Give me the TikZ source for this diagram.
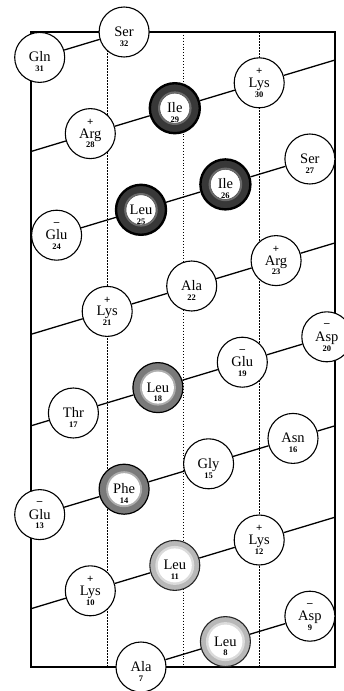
\documentclass[tikz,border=0pt]{standalone}
\usepackage{fontspec}
\usepackage{tikz}
\setmainfont{Liberation Serif}
\usetikzlibrary{backgrounds}
\newcommand{\namefont}{\fontsize{14.5}{14.5}\selectfont}
\newcommand{\numfont}{\fontsize{8.5}{8.5}\selectfont\bfseries}
\newcommand{\chgfont}{\fontsize{11}{11}\selectfont\bfseries}
\tikzset{
  res/.style={
    circle,
    draw=black,
    line width=1.1pt,
    fill=white,
    minimum size=50pt,
    inner sep=0pt,
    font=\namefont,
    text height=9pt,
    text depth=0pt
  },
  ringdark/.style={
    res,
    line width=2.4pt,
    fill=black!78,
    path picture={
      \fill[black!58] (path picture bounding box.center) circle (16.8pt);
      \filldraw[fill=white, draw=black!70, line width=0.5pt] (path picture bounding box.center) circle (15pt);
    }
  },
  ringmid/.style={
    res,
    line width=1.2pt,
    fill=black!52,
    path picture={
      \fill[black!32] (path picture bounding box.center) circle (18pt);
      \fill[white] (path picture bounding box.center) circle (16pt);
    }
  },
  ringlight/.style={
    res,
    draw=black!85,
    fill=black!28,
    path picture={
      \fill[black!14] (path picture bounding box.center) circle (19.5pt);
      \fill[white] (path picture bounding box.center) circle (17pt);
    }
  },
  numlbl/.style={font=\numfont, inner sep=0pt, text height=5.5pt, text depth=0pt, yshift=-11.5pt},
  chglbl/.style={font=\chgfont, inner sep=0pt, yshift=11.5pt},
  num/.style={label={[numlbl]center:#1}},
  chgpos/.style={label={[chglbl]center:+}},
  chgneg/.style={label={[chglbl]center:--}},
  helix/.style={line width=1.3pt, draw=black},
  rim/.style={line width=1.2pt, draw=black},
  dashdiv/.style={line width=0.9pt, dash pattern=on 2pt off 1pt},
  dotdiv/.style={line width=0.9pt, dotted}
}

\begin{document}
\begin{tikzpicture}[x=1pt, y=-1pt]
  \useasboundingbox (0,0) rectangle (344,691);

  % residues, bottom to top
  \node[res, num=7] (ala7) at (141,667) {Ala};
  \node[ringlight, num=8] (leu8) at (225.4,641.6) {Leu};
  \node[res, chgneg, num=9] (asp9) at (309.9,616.2) {Asp};
  \node[res, chgpos, num=10] (lys10) at (90.3,590.8) {Lys};
  \node[ringlight, num=11] (leu11) at (174.8,565.4) {Leu};
  \node[res, chgpos, num=12] (lys12) at (259.2,540) {Lys};
  \node[res, chgneg, num=13] (glu13) at (39.7,514.6) {Glu};
  \node[ringmid, num=14] (phe14) at (124.1,489.2) {Phe};
  \node[res, num=15] (gly15) at (208.6,463.8) {Gly};
  \node[res, num=16] (asn16) at (293,438.4) {Asn};
  \node[res, num=17] (thr17) at (73.4,413) {Thr};
  \node[ringmid, num=18] (leu18) at (157.9,387.6) {Leu};
  \node[res, chgneg, num=19] (glu19) at (242.3,362.2) {Glu};
  \node[res, chgneg, num=20] (asp20) at (326.8,336.8) {Asp};
  \node[res, chgpos, num=21] (lys21) at (107.2,311.4) {Lys};
  \node[res, num=22] (ala22) at (191.7,286) {Ala};
  \node[res, chgpos, num=23] (arg23) at (276.1,260.6) {Arg};
  \node[res, chgneg, num=24] (glu24) at (56.6,235.2) {Glu};
  \node[ringdark, num=25] (leu25) at (141,209.8) {Leu};
  \node[ringdark, num=26] (ile26) at (225.4,184.4) {Ile};
  \node[res, num=27] (ser27) at (309.9,159) {Ser};
  \node[res, chgpos, num=28] (arg28) at (90.3,133.6) {Arg};
  \node[ringdark, num=29] (ile29) at (174.8,108.2) {Ile};
  \node[res, chgpos, num=30] (lys30) at (259.2,82.8) {Lys};
  \node[res, num=31] (gln31) at (39.7,57.4) {Gln};
  \node[res, num=32] (ser32) at (124.1,32) {Ser};

  % where the helix leaves the right edge and comes back at the left
  \coordinate (rim9) at (335,608.7);  \coordinate (rim10) at (31,608.7);
  \coordinate (rim12) at (335,517.2);
  \coordinate (rim16) at (335,425.8); \coordinate (rim17) at (31,425.8);
  \coordinate (rim21) at (31,334.3);
  \coordinate (rim23) at (335,242.9); \coordinate (rim24) at (31,242.9);
  \coordinate (rim27) at (335,151.5); \coordinate (rim28) at (31,151.5);
  \coordinate (rim30) at (335,60);

  \begin{pgfonlayer}{background}
    \draw[rim] (31,32) rectangle (335,667);
    \draw[dashdiv] (107,32) -- (107,667);
    \draw[dotdiv] (183,32) -- (183,667);
    \draw[dashdiv] (259,32) -- (259,667);

    \draw[helix] (ala7) -- (leu8);
    \draw[helix] (leu8) -- (asp9);
    \draw[helix] (asp9) -- (rim9);
    \draw[helix] (rim10) -- (lys10);
    \draw[helix] (lys10) -- (leu11);
    \draw[helix] (leu11) -- (lys12);
    \draw[helix] (lys12) -- (rim12);
    \draw[helix] (glu13) -- (phe14);
    \draw[helix] (phe14) -- (gly15);
    \draw[helix] (gly15) -- (asn16);
    \draw[helix] (asn16) -- (rim16);
    \draw[helix] (rim17) -- (thr17);
    \draw[helix] (thr17) -- (leu18);
    \draw[helix] (leu18) -- (glu19);
    \draw[helix] (glu19) -- (asp20);
    \draw[helix] (rim21) -- (lys21);
    \draw[helix] (lys21) -- (ala22);
    \draw[helix] (ala22) -- (arg23);
    \draw[helix] (arg23) -- (rim23);
    \draw[helix] (rim24) -- (glu24);
    \draw[helix] (glu24) -- (leu25);
    \draw[helix] (leu25) -- (ile26);
    \draw[helix] (ile26) -- (ser27);
    \draw[helix] (ser27) -- (rim27);
    \draw[helix] (rim28) -- (arg28);
    \draw[helix] (arg28) -- (ile29);
    \draw[helix] (ile29) -- (lys30);
    \draw[helix] (lys30) -- (rim30);
    \draw[helix] (gln31) -- (ser32);
  \end{pgfonlayer}
\end{tikzpicture}
\end{document}
